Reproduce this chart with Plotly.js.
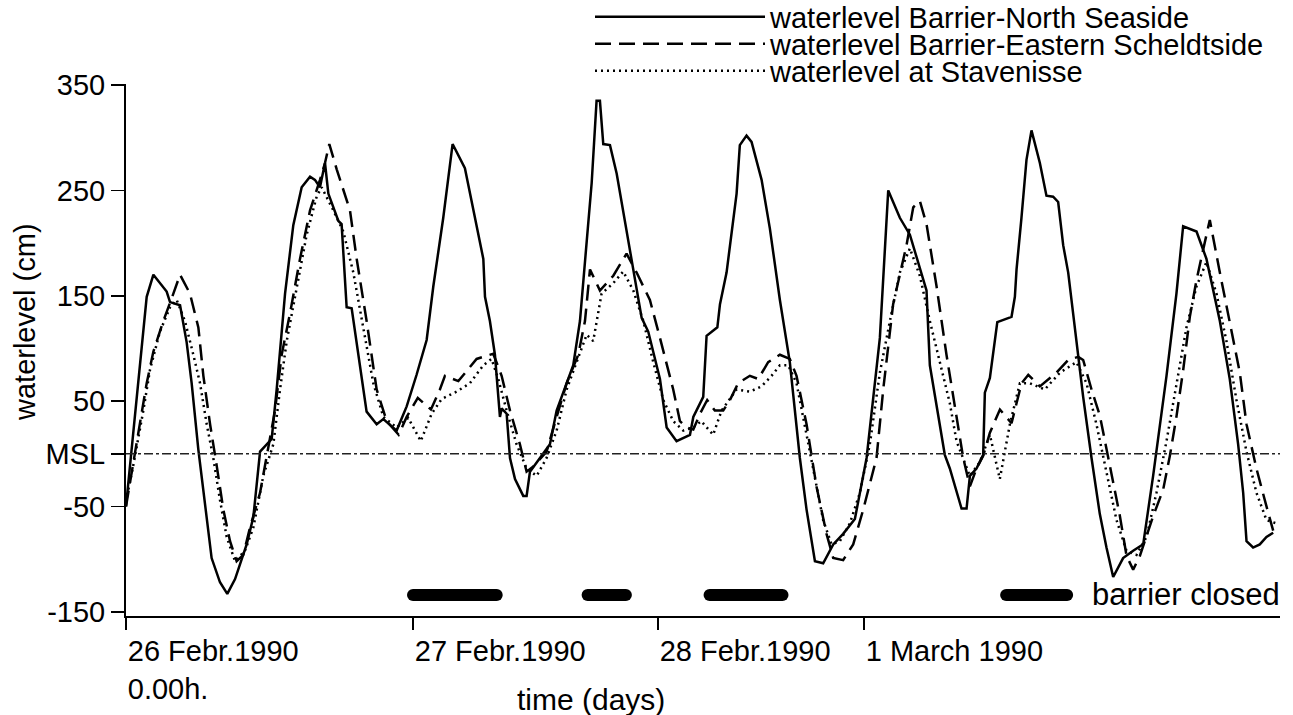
<!DOCTYPE html>
<html>
<head>
<meta charset="utf-8">
<script src="https://cdn.plot.ly/plotly-3.0.1.min.js"></script>
<style>html,body{margin:0;padding:0;background:#fff;}#chart{width:1293px;height:715px;}</style>
</head>
<body>
<div id="chart"></div>
<script>
// time axis in hours after 26 Febr. 1990 0.00h
const hNorth = [0,1.73,2.29,3.40,3.68,4.52,5.07,5.49,6.05,6.61,7.16,7.86,8.47,9.12,10.09,10.65,11.21,12.18,12.60,13.30,13.99,14.69,15.39,15.80,16.22,16.64,16.92,17.76,18.03,18.45,18.87,20.12,20.96,21.52,22.63,23.47,24.30,25.14,25.70,26.53,27.31,28.34,28.90,29.88,30.02,30.43,30.85,31.27,31.41,31.83,32.11,32.53,33.22,33.50,33.78,34.62,35.45,36.01,36.85,37.40,37.96,38.94,39.35,39.63,39.91,40.47,41.03,42.14,43.12,43.67,44.65,45.21,46.04,47.16,47.44,48.27,48.55,49.45,49.67,50.22,51.06,51.33,51.89,52.31,53.15,53.84,54.68,55.51,56.35,56.91,57.61,58.30,59.14,59.97,60.95,61.93,63.04,63.74,64.71,65.55,66.38,66.94,67.22,68.47,68.89,69.59,69.87,70.29,70.57,71.12,71.68,71.82,72.24,72.86,74.05,74.33,74.47,74.88,75.30,75.72,76.42,76.97,77.53,77.95,78.37,78.79,79.48,80.04,80.74,81.43,81.99,82.55,83.38,84.22,85.06,85.89,87.01,87.84,88.40,88.82,89.52,90.35,91.47,92.30,93.00,93.42,93.70,94.25,94.81,95.37,95.93];
const vNorth = [-50,149,170,154,144,141,106,67,4,-47,-99,-122,-133,-119,-86,-60,2,14,61,152,217,253,263,260,253,276,247,221,218,139,138,40,28,33,22,45,75,108,159,224,294,271,240,185,149,126,94,35,43,38,-4,-24,-40,-40,-17,-4,9,41,67,84,126,257,335,335,294,293,266,191,129,116,71,25,12,18,35,54,112,120,142,172,247,293,302,296,260,214,146,87,-4,-53,-102,-104,-86,-76,-62,-4,110,250,224,208,175,155,84,-1,-14,-42,-52,-52,-21,-14,-1,58,72,125,130,149,175,224,279,307,276,245,244,239,198,172,107,54,-4,-57,-89,-117,-99,-92,-86,-21,74,152,216,214,211,185,126,71,9,-37,-83,-89,-86,-79,-75];

const hEast = [0,0.34,1.17,1.73,2.29,3.12,3.96,4.52,5.35,6.05,6.47,7.03,7.58,8.14,8.70,9.25,9.81,10.37,11.21,11.76,12.46,13.02,13.71,14.55,15.39,16.22,16.64,17.00,17.62,18.73,19.29,20.12,20.96,21.80,22.80,23.47,24.40,25.50,26.25,26.67,27.79,29.32,30.71,31.41,32.11,32.94,33.50,34.06,35.17,36.01,36.85,37.82,38.38,38.80,39.63,40.75,41.86,42.70,43.81,44.65,45.76,46.32,46.88,47.44,48.00,48.60,49.24,49.94,50.50,51.19,52.17,52.87,53.70,54.68,55.51,56.07,56.91,57.74,58.58,59.14,59.97,60.81,61.65,62.76,63.32,64.15,65.27,65.83,66.38,66.94,67.78,68.61,69.45,70.01,70.57,71.12,71.68,72.24,73.08,74.05,74.89,75.45,76.42,77.81,78.79,79.63,80.04,80.74,81.44,82.00,82.55,83.11,83.67,84.22,84.78,85.90,86.73,87.29,87.85,88.41,88.96,89.52,90.08,90.63,91.47,92.30,93.14,93.70,94.53,95.37,95.93];
const vEast = [-50,-27,28,67,97,126,152,170,152,120,74,28,-11,-53,-83,-102,-96,-70,-37,-4,41,94,133,185,231,260,276,294,270,231,185,126,61,31,18,35,53,42,61,74,69,90,95,74,41,9,-17,-12,2,35,67,94,126,175,155,169,190,172,146,110,61,31,25,23,38,51,41,41,51,67,74,71,87,94,90,74,28,-31,-76,-99,-101,-86,-53,-4,61,142,198,234,240,218,159,94,35,-4,-31,-14,-2,20,42,29,67,75,64,77,89,92,89,61,36,4,-28,-59,-97,-110,-97,-59,-34,-2,36,80,130,165,194,222,172,126,77,28,-14,-50,-73];

const hStav = [0,0.61,1.45,2.01,2.84,3.68,4.24,4.93,5.63,6.19,6.75,7.30,7.86,8.42,9.12,9.95,10.65,11.48,12.32,12.88,13.44,14.27,15.11,15.94,16.36,17.34,18.17,19.01,19.85,20.68,21.52,22.63,23.60,24.65,25.56,26.40,27.65,28.76,29.88,30.57,31.13,31.83,32.66,33.50,34.34,35.17,36.01,36.85,37.68,38.52,39.07,39.77,40.75,41.58,42.42,43.26,44.09,44.93,45.76,46.60,47.44,48.10,49.10,49.80,51.06,52.17,53.15,53.98,54.68,55.38,56.07,56.63,57.47,58.30,59.00,59.70,60.53,61.37,62.20,63.04,63.88,64.71,65.55,66.38,67.22,68.06,68.89,69.45,70.01,70.56,71.40,72.24,73.07,73.91,74.75,75.58,76.83,78.09,79.48,80.32,81.15,81.99,82.83,83.66,84.50,85.34,86.17,87.01,87.84,88.68,89.52,90.35,91.19,92.02,92.86,93.70,94.53,95.37,96.20];
const vStav = [-45,-11,41,80,116,139,146,126,94,67,28,-4,-44,-79,-102,-92,-70,-21,9,61,107,159,208,244,253,231,211,172,120,67,35,25,34,12,38,52,59,67,84,90,71,41,9,-14,-21,-4,22,61,87,113,107,152,162,173,155,126,87,51,31,22,25,31,18,41,61,59,64,74,84,84,67,35,-14,-63,-86,-83,-66,-37,9,77,126,172,195,169,126,87,48,12,-4,-21,-8,18,-24,28,67,67,61,77,87,67,28,-17,-63,-92,-96,-79,-37,12,67,120,159,182,152,107,51,2,-37,-63,-66];

// barrier closed periods (hours)
const closedStart = [24.0, 38.6, 48.8, 73.6];
const closedEnd   = [31.0, 41.8, 54.9, 78.7];
const closedLevel = -134;

const seriesNames = ["waterlevel Barrier-North Seaside","waterlevel Barrier-Eastern Scheldtside","waterlevel at Stavenisse"];
const dayTicks = [0, 24, 44.48, 61.71];
const dayLabels = ["26 Febr.1990<br>0.00h.","27 Febr.1990","28 Febr.1990","1 March 1990"];
const yTicks = [-150,-50,0,50,150,250,350];
const yLabels = ["-150","-50","MSL","50","150","250","350"];

const FONT = "Liberation Sans, Arial, Helvetica, sans-serif";

const bx = [], by = [];
closedStart.forEach((s,i)=>{ bx.push(s, closedEnd[i], null); by.push(closedLevel, closedLevel, null); });

const traces = [
  {x:hNorth, y:vNorth, name:seriesNames[0], mode:"lines", line:{color:"#000", width:2.5}, legend:"legend"},
  {x:hEast, y:vEast, name:seriesNames[1], mode:"lines", line:{color:"#000", width:2.5, dash:"16px,8px"}, legend:"legend2"},
  {x:hStav, y:vStav, name:seriesNames[2], mode:"lines", line:{color:"#000", width:2.5, dash:"2px,4px"}, legend:"legend3"},
  {x:bx, y:by, name:"barrier closed", mode:"lines+markers", showlegend:false, connectgaps:false,
   line:{color:"#000", width:12}, marker:{color:"#000", size:12, symbol:"circle"}}
];

const pxX = p => (p-126)/1154;
const pxY = p => (616-p)/532;
const legendBase = {xanchor:"left", yanchor:"middle", itemwidth:170, bgcolor:"rgba(0,0,0,0)", borderwidth:0,
  font:{family:FONT, size:29, color:"#000"}, tracegroupgap:0};

const layout = {
  width:1293, height:715,
  margin:{l:126, r:13, t:84, b:99, autoexpand:false},
  paper_bgcolor:"#fff", plot_bgcolor:"#fff",
  font:{family:FONT, size:29, color:"#000"},
  showlegend:true,
  legend: Object.assign({}, legendBase, {x:pxX(590), y:pxY(17)}),
  legend2: Object.assign({}, legendBase, {x:pxX(590), y:pxY(44)}),
  legend3: Object.assign({}, legendBase, {x:pxX(590), y:pxY(71)}),
  xaxis:{range:[0,96.5], showgrid:false, zeroline:false, showline:true, linecolor:"#000", linewidth:2,
    ticks:"outside", ticklen:12, tickwidth:1.5, tickcolor:"#000",
    tickvals:dayTicks, ticktext:dayLabels, ticklabelposition:"outside right", ticklabelstandoff:8,
    tickfont:{family:FONT, size:29, color:"#000"}},
  yaxis:{range:[-154,351], showgrid:false, zeroline:false, showline:true, linecolor:"#000", linewidth:2,
    ticks:"outside", ticklen:13, tickwidth:1.5, tickcolor:"#000",
    tickvals:yTicks, ticktext:yLabels, tickfont:{family:FONT, size:29, color:"#000"}},
  shapes:[{type:"line", xref:"paper", x0:0, x1:1, yref:"y", y0:0, y1:0,
    line:{color:"#222", width:1.3, dash:"dashdot"}}],
  annotations:[
    {text:"waterlevel (cm)", xref:"paper", yref:"paper", x:pxX(25), y:pxY(322), textangle:-90,
     showarrow:false, xanchor:"center", yanchor:"middle", font:{family:FONT, size:29, color:"#000"}},
    {text:"time (days)", xref:"paper", yref:"paper", x:pxX(591), y:pxY(699),
     showarrow:false, xanchor:"center", yanchor:"middle", font:{family:FONT, size:30, color:"#000"}},
    {text:"barrier closed", xref:"x", yref:"y", x:80.6, y:closedLevel,
     showarrow:false, xanchor:"left", yanchor:"middle", font:{family:FONT, size:31, color:"#000"}}
  ]
};

Plotly.newPlot("chart", traces, layout, {staticPlot:true, displayModeBar:false});
</script>
</body>
</html>
